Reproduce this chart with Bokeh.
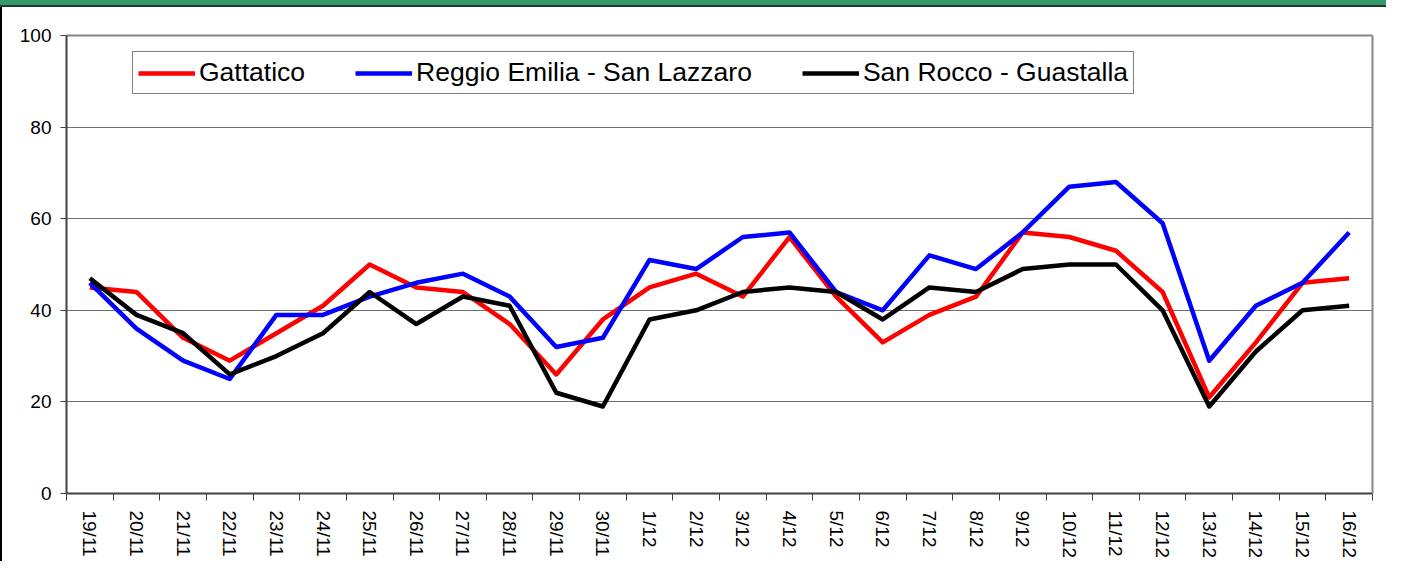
from bokeh.plotting import figure
from bokeh.models import Range1d, FixedTicker, LinearAxis, Legend, LegendItem
from bokeh.embed import file_html
from bokeh.resources import INLINE

dates = ["19/11", "20/11", "21/11", "22/11", "23/11", "24/11", "25/11", "26/11", "27/11", "28/11",
         "29/11", "30/11", "1/12", "2/12", "3/12", "4/12", "5/12", "6/12", "7/12", "8/12",
         "9/12", "10/12", "11/12", "12/12", "13/12", "14/12", "15/12", "16/12"]
gattatico = [45, 44, 34, 29, 35, 41, 50, 45, 44, 37, 26, 38, 45, 48, 43, 56, 43, 33, 39, 43,
             57, 56, 53, 44, 21, 33, 46, 47]
reggio_emilia = [46, 36, 29, 25, 39, 39, 43, 46, 48, 43, 32, 34, 51, 49, 56, 57, 44, 40, 52, 49,
                 57, 67, 68, 59, 29, 41, 46, 57]
san_rocco = [47, 39, 35, 26, 30, 35, 44, 37, 43, 41, 22, 19, 38, 40, 44, 45, 44, 38, 45, 44,
             49, 50, 50, 40, 19, 31, 40, 41]
series_names = ["Gattatico", "Reggio Emilia - San Lazzaro", "San Rocco - Guastalla"]
y_ticks = [0, 20, 40, 60, 80, 100]

FONT = "Liberation Sans"
xs = list(range(len(dates)))

p = figure(width=1386, height=561, output_backend="svg", toolbar_location=None,
           x_range=Range1d(-0.5, len(dates) - 0.5), y_range=Range1d(0, 100),
           min_border_left=66, min_border_right=14, min_border_top=35, min_border_bottom=68)
p.background_fill_color = "white"
p.border_fill_color = None
p.outline_line_color = None
p.styles = {
    "background": ("linear-gradient(to bottom, #339966 0px, #339966 5px, #1d3d2b 5px, "
                   "#1d3d2b 7px, transparent 7px), "
                   "linear-gradient(to right, #000000 0px, #000000 2px, #ffffff 2px)")
}

# x axis
xa = p.xaxis[0]
xa.ticker = FixedTicker(ticks=xs, minor_ticks=[i - 0.5 for i in range(len(dates) + 1)])
xa.major_label_overrides = {i: d for i, d in enumerate(dates)}
xa.major_label_orientation = "vertical"
xa.major_tick_out = 0
xa.major_tick_in = 0
xa.minor_tick_out = 7
xa.minor_tick_in = 0
xa.minor_tick_line_color = "#404040"
xa.axis_line_color = "#404040"
xa.axis_line_width = 2
xa.major_label_text_font = FONT
xa.major_label_text_font_size = "19px"
xa.major_label_text_color = "black"
xa.major_label_standoff = 10

# y axis
ya = p.yaxis[0]
ya.ticker = FixedTicker(ticks=y_ticks)
ya.major_tick_out = 6
ya.major_tick_in = 0
ya.minor_tick_out = 0
ya.minor_tick_in = 0
ya.major_tick_line_color = "#404040"
ya.axis_line_color = "#404040"
ya.axis_line_width = 2
ya.major_label_text_font = FONT
ya.major_label_text_font_size = "19px"
ya.major_label_text_color = "black"
ya.major_label_standoff = 9

# frame top/right borders
for side in ("above", "right"):
    ax = LinearAxis(ticker=FixedTicker(ticks=[]), axis_line_color="#868686", axis_line_width=2,
                    major_tick_out=0, major_tick_in=0, minor_tick_out=0, minor_tick_in=0,
                    major_label_text_font_size="0px")
    p.add_layout(ax, side)

p.xgrid.grid_line_color = None
p.ygrid.ticker = FixedTicker(ticks=y_ticks[1:-1])
p.ygrid.grid_line_color = "#6e6e6e"
p.ygrid.grid_line_width = 1

r1 = p.line(xs, gattatico, line_color="#ff0000", line_width=4.5, line_join="round")
r2 = p.line(xs, reggio_emilia, line_color="#0000ff", line_width=4.5, line_join="round")
r3 = p.line(xs, san_rocco, line_color="#000000", line_width=4.5, line_join="round")

legend = Legend(items=[LegendItem(label=series_names[0], renderers=[r1]),
                       LegendItem(label=series_names[1], renderers=[r2]),
                       LegendItem(label=series_names[2], renderers=[r3])],
                location=(66, 399), orientation="horizontal", margin=0, padding=5,
                spacing=50, glyph_width=57, label_standoff=4,
                label_text_font=FONT, label_text_font_size="26.5px", label_text_color="black",
                border_line_color="black", border_line_width=1,
                background_fill_color="white", background_fill_alpha=1.0)
p.add_layout(legend)

open("out.html", "w").write(file_html(p, INLINE))
